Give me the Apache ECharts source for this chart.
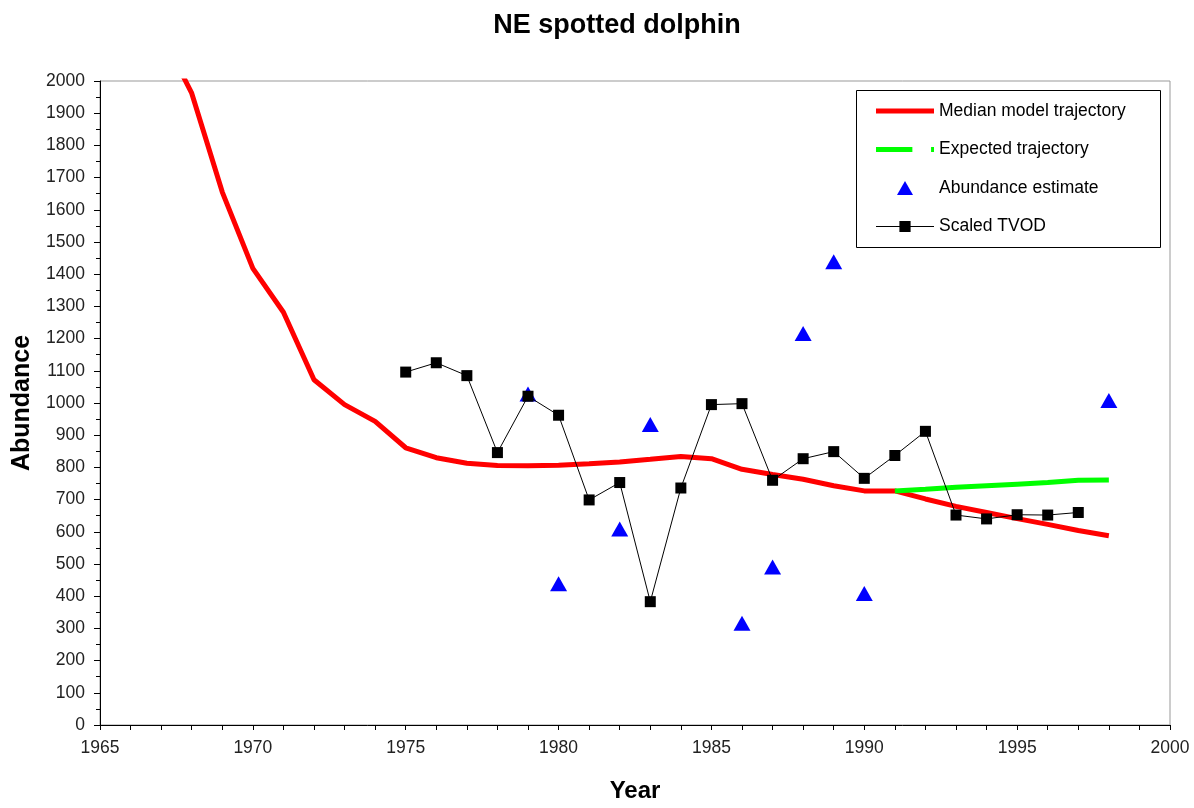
<!DOCTYPE html>
<html>
<head>
<meta charset="utf-8">
<script src="https://cdn.jsdelivr.net/npm/echarts@6/dist/echarts.min.js"></script>
<style>
html,body{margin:0;padding:0;background:#fff;}
#chart{width:1194px;height:808px;}
</style>
</head>
<body>
<div id="chart"></div>
<script>
// Median model trajectory
const medianYears = [1967,1968,1969,1970,1971,1972,1973,1974,1975,1976,1977,1978,1979,1980,1981,1982,1983,1984,1985,1986,1987,1988,1989,1990,1991,1992,1993,1994,1995,1996,1997,1998];
const medianValues = [2150,1962,1655,1418,1282,1072,995,943,861,830,813,806,805,807,811,817,825,834,827,794,778,763,743,727,727,702,679,660,641,623,604,588];
// Expected trajectory
const expectedYears = [1991,1992,1993,1994,1995,1996,1997,1998];
const expectedValues = [727,732,738,743,748,753,760,761];
// Abundance estimates
const abundanceYears = [1979,1980,1982,1983,1986,1987,1988,1989,1990,1998];
const abundanceValues = [1028,439,609,933,316,491,1216,1439,408,1008];
// Scaled TVOD
const tvodYears = [1975,1976,1977,1978,1979,1980,1981,1982,1983,1984,1985,1986,1987,1988,1989,1990,1991,1992,1993,1994,1995,1996,1997];
const tvodValues = [1096,1125,1085,846,1021,962,699,753,383,736,995,998,760,827,849,766,837,912,652,640,653,652,660];

const pairs = (xs, ys) => xs.map((x, i) => [x, ys[i]]);
const FONT = '"Liberation Sans", Arial, sans-serif';

const chart = echarts.init(document.getElementById('chart'), null, {renderer: 'canvas'});
chart.setOption({
  animation: false,
  backgroundColor: '#fff',
  textStyle: {fontFamily: FONT},
  title: {
    text: 'NE spotted dolphin',
    left: 612, top: 7, textAlign: 'center',
    textStyle: {fontFamily: FONT, fontSize: 27, fontWeight: 'bold', color: '#000'}
  },
  grid: {
    left: 100, right: 24, top: 81, bottom: 79,
    show: true, borderColor: '#999', borderWidth: 1, backgroundColor: '#fff',
    containLabel: false
  },
  legend: {
    orient: 'vertical',
    left: 876, top: 102,
    itemWidth: 58, itemHeight: 14, itemGap: 20.5,
    padding: 0,
    symbolKeepAspect: true,
    textStyle: {fontFamily: FONT, fontSize: 17.5, color: '#000'},
    data: [
      {name: 'Median model trajectory', icon: 'path://M0,0L58,0L58,5L0,5Z'},
      {name: 'Expected trajectory', icon: 'path://M0,0L37,0L37,5L0,5Z M56,0L59,0L59,5L56,5Z'},
      {name: 'Abundance estimate', icon: 'path://M8,0L16,14L0,14Z'},
      {name: 'Scaled TVOD', icon: 'path://M1,5.5L24,5.5L24,6.5L1,6.5Z M24,0.5L35,0.5L35,11.5L24,11.5Z M35,5.5L58,5.5L58,6.5L35,6.5Z'}
    ]
  },
  graphic: [{
    type: 'rect', left: 854, top: 88, z: 100,
    shape: {width: 304, height: 157},
    style: {fill: 'none', stroke: '#000', lineWidth: 1}
  }],
  xAxis: {
    type: 'value', min: 1965, max: 2000, interval: 5,
    name: 'Year', nameLocation: 'middle', nameGap: 54,
    nameTextStyle: {fontFamily: FONT, fontSize: 24, fontWeight: 'bold', color: '#000'},
    axisLine: {show: true, lineStyle: {color: '#000', width: 1}},
    axisTick: {show: true, length: 5, lineStyle: {color: '#000'}},
    minorTick: {show: true, splitNumber: 5, length: 5, lineStyle: {color: '#000'}},
    splitLine: {show: false},
    axisLabel: {fontFamily: FONT, fontSize: 17.5, color: '#222', margin: 14, formatter: v => String(v)}
  },
  yAxis: {
    type: 'value', min: 0, max: 2000, interval: 100,
    name: 'Abundance', nameLocation: 'middle', nameGap: 65,
    nameTextStyle: {fontFamily: FONT, fontSize: 25, fontWeight: 'bold', color: '#000'},
    axisLine: {show: true, lineStyle: {color: '#000', width: 1}},
    axisTick: {show: true, length: 6, lineStyle: {color: '#000'}},
    minorTick: {show: true, splitNumber: 2, length: 4, lineStyle: {color: '#000'}},
    splitLine: {show: false},
    axisLabel: {fontFamily: FONT, fontSize: 17.5, color: '#222', margin: 15, formatter: v => String(v)}
  },
  series: [
    {
      name: 'Median model trajectory', type: 'line',
      data: pairs(medianYears, medianValues),
      showSymbol: false, symbol: 'none', clip: true,
      lineStyle: {color: '#ff0000', width: 5},
      itemStyle: {color: '#ff0000'}, z: 2
    },
    {
      name: 'Expected trajectory', type: 'line',
      data: pairs(expectedYears, expectedValues),
      showSymbol: false, symbol: 'none',
      lineStyle: {color: '#00ff00', width: 5},
      itemStyle: {color: '#00ff00'}, z: 3
    },
    {
      name: 'Abundance estimate', type: 'scatter',
      data: pairs(abundanceYears, abundanceValues),
      symbol: 'triangle', symbolSize: [17, 15],
      itemStyle: {color: '#0000ff', opacity: 1}, z: 4
    },
    {
      name: 'Scaled TVOD', type: 'line',
      data: pairs(tvodYears, tvodValues),
      symbol: 'rect', symbolSize: 11, showAllSymbol: true,
      lineStyle: {color: '#000', width: 1},
      itemStyle: {color: '#000'}, z: 5
    }
  ]
});
</script>
</body>
</html>
